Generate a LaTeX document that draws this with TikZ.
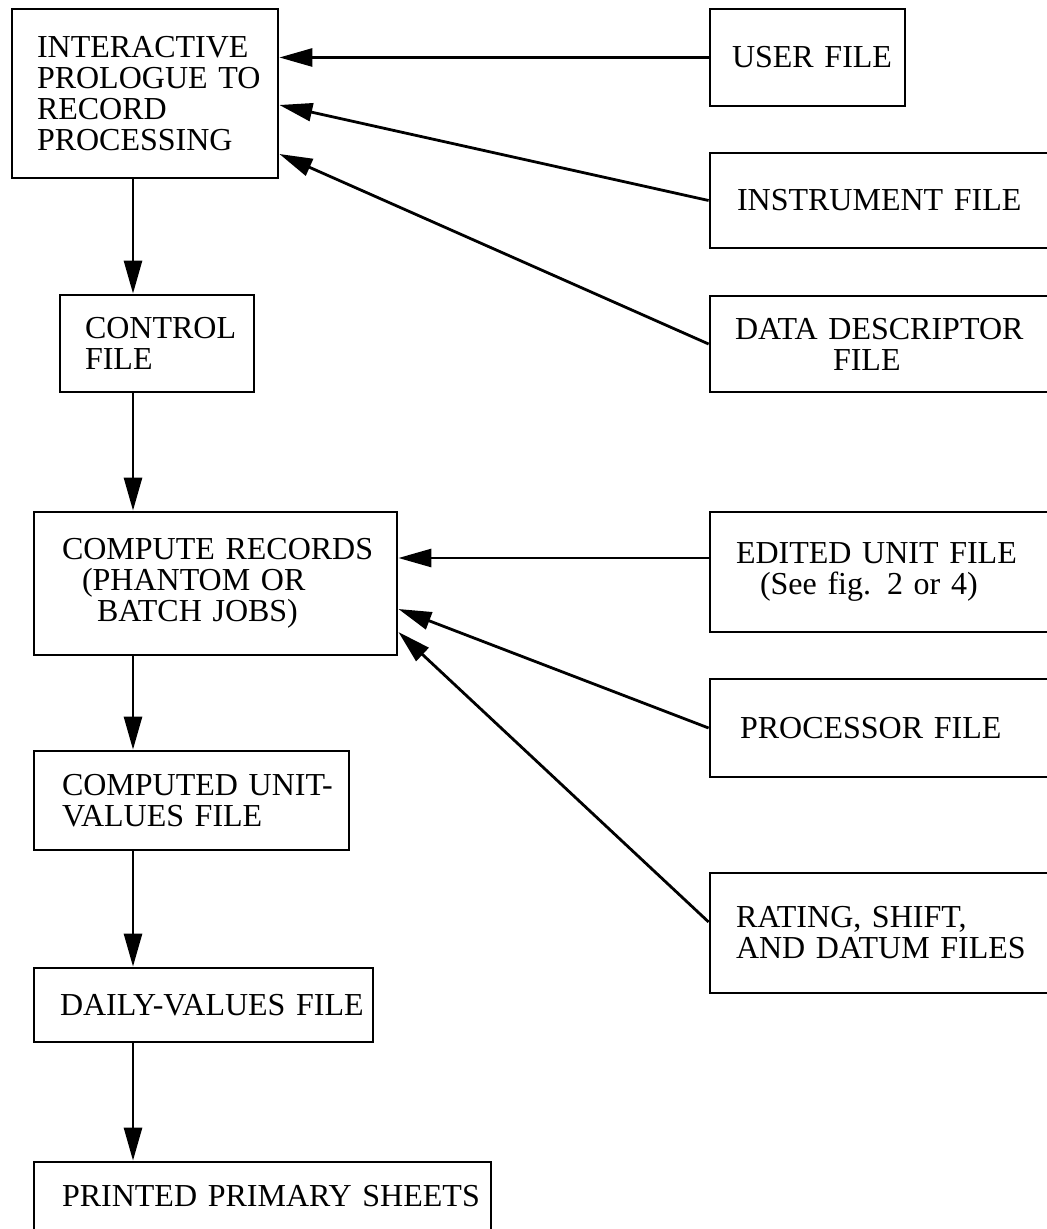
\documentclass[tikz,border=0pt]{standalone}
\usepackage{fontspec}
\setmainfont{Liberation Serif}
\usetikzlibrary{arrows.meta,calc}
\begin{document}
\begin{tikzpicture}[x=0.5pt,y=-0.5pt,
  box/.style={draw, line width=1.4pt, rectangle, inner ysep=0pt, align=left,
    font=\fontsize{16pt}{15.5pt}\selectfont,
    execute at begin node={\hyphenpenalty=10000\exhyphenpenalty=10000}},
  flow/.style={line width=1.4pt, -{Triangle[length=16.5pt,width=9pt]}}]
\clip (0,0) rectangle (1047,1229);
\fill[white] (0,0) rectangle (1047,1229);

% main processing column
\node[box, minimum width=133pt, minimum height=84.5pt, text width=108pt, inner xsep=12.5pt]
  (prolog) at (145,93.5) {\mbox{INTERACTIVE}\\\mbox{PROLOGUE TO}\\\mbox{RECORD}\\\mbox{PROCESSING}};
\node[box, minimum width=97pt, minimum height=48.5pt, text width=72pt, inner xsep=12.5pt]
  (control) at (157,343.5) {\mbox{CONTROL}\\\mbox{FILE}};
\node[box, minimum width=181.5pt, minimum height=71.5pt, text width=153.5pt, inner xsep=14pt]
  (compute) at (215.5,583.5) {\mbox{COMPUTE RECORDS}\\\hspace*{10pt}\mbox{(PHANTOM OR}\\\hspace*{17.5pt}\mbox{BATCH JOBS)}};
\node[box, minimum width=157.5pt, minimum height=49.5pt, text width=129.5pt, inner xsep=14pt]
  (unitval) at (191.5,800.5) {\mbox{COMPUTED UNIT-}\\\mbox{VALUES FILE}};
\node[box, minimum width=169.5pt, minimum height=37pt, text width=143.5pt, inner xsep=13pt]
  (daily) at (203.5,1005) {\mbox{DAILY-VALUES FILE}};
\node[box, minimum width=228.5pt, minimum height=34.5pt, text width=200.5pt, inner xsep=14pt]
  (printed) at (262.5,1196.5) {\mbox{PRINTED PRIMARY SHEETS}};

% input files
\node[box, minimum width=97.5pt, minimum height=48.5pt, text width=75.5pt, inner xsep=11pt]
  (user) at (807.5,57.5) {\mbox{USER FILE}};
\node[box, minimum width=180pt, minimum height=47.5pt, text width=153pt, inner xsep=13.5pt]
  (instr) at (890,200.5) {\mbox{INSTRUMENT FILE}};
\node[box, minimum width=180pt, minimum height=48pt, text width=155pt, inner xsep=12.5pt]
  (descr) at (890,344) {\mbox{DATA DESCRIPTOR}\\\hspace*{49pt}\mbox{FILE}};
\node[box, minimum width=180pt, minimum height=60pt, text width=154pt, inner xsep=13pt]
  (edited) at (890,572) {\mbox{EDITED UNIT FILE}\\\hspace*{12pt}\mbox{(See fig. 2 or 4)}};
\node[box, minimum width=180pt, minimum height=49pt, text width=150pt, inner xsep=15pt]
  (proc) at (890,728) {\mbox{PROCESSOR FILE}};
\node[box, minimum width=180pt, minimum height=60pt, text width=154pt, inner xsep=13pt]
  (rating) at (890,933) {\mbox{RATING, SHIFT,}\\\mbox{AND DATUM FILES}};

% connector attachment points
\coordinate (col) at (133,0);
\coordinate (pin2) at ($(prolog.east)+(0,11.5)$);
\coordinate (pin3) at ($(prolog.east)+(0,60.5)$);
\coordinate (cin1) at ($(compute.east)+(0,-25.5)$);
\coordinate (cin2) at ($(compute.east)+(0,25.5)$);
\coordinate (cin3) at ($(compute.east)+(0,48.5)$);
\coordinate (rout) at ($(rating.west)+(0,-11)$);

% vertical flow
\draw[flow] (prolog.south -| col) -- (control.north -| col);
\draw[flow] (control.south -| col) -- (compute.north -| col);
\draw[flow] (compute.south -| col) -- (unitval.north -| col);
\draw[flow] (unitval.south -| col) -- (daily.north -| col);
\draw[flow] (daily.south -| col) -- (printed.north -| col);

% inputs to the prologue
\draw[flow] (user.west) -- (user.west -| prolog.east);
\draw[flow] (instr.west) -- (pin2);
\draw[flow] (descr.west) -- (pin3);

% inputs to record computation
\draw[flow] (cin1 -| edited.west) -- (cin1);
\draw[flow] (proc.west) -- (cin2);
\draw[flow] (rout) -- (cin3);
\end{tikzpicture}
\end{document}
